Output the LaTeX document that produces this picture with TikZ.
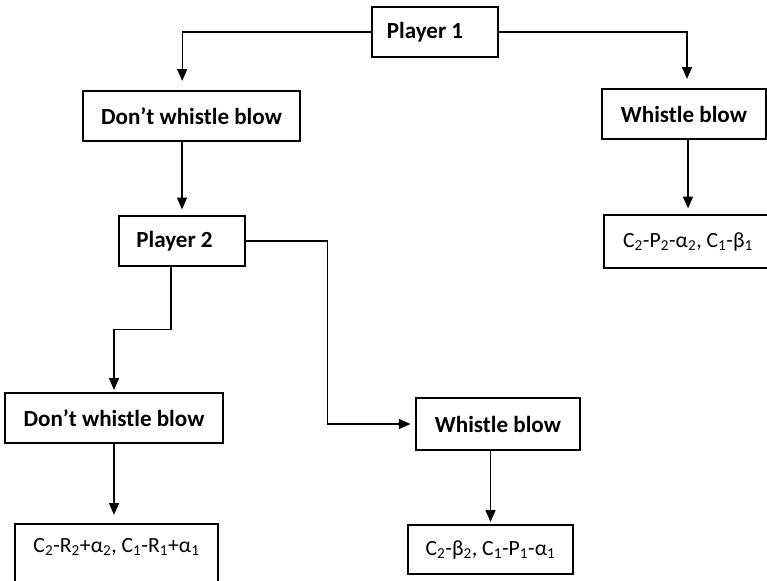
\documentclass[tikz,border=0pt]{standalone}
\usepackage{fontspec}
\setmainfont{Carlito}
\usetikzlibrary{arrows.meta}
\tikzset{move/.style={draw, line width=1.3pt, inner sep=0pt, minimum height=1.5cm, font=\bfseries\fontsize{19.7}{24}\selectfont},
         pay/.style={draw, line width=1.3pt, inner sep=0pt, font=\fontsize{18.5}{22}\selectfont},
         link/.style={line width=1pt, -{Triangle[length=10pt,width=8.5pt]}, shorten >=5pt}}

\begin{document}
\begin{tikzpicture}[x=0.03cm,y=-0.03cm]
  \clip (0,0) rectangle (767,580);
  % first move
  \node[move,minimum width=3.78cm] (p1)   at (435,32)  {Player 1\hspace*{0.6cm}};
  \node[move,minimum width=6.51cm] (dwb1) at (191.5,116) {Don’t whistle blow};
  \node[move,minimum width=4.92cm] (wb1)  at (684,114) {Whistle blow};
  \node[pay,minimum width=5.04cm,minimum height=1.59cm] (r1) at (688,241.5)
    {C\textsubscript{2}-P\textsubscript{2}-α\textsubscript{2}, C\textsubscript{1}-β\textsubscript{1}};
  % second move
  \node[move,minimum width=3.78cm] (p2)   at (182,241) {Player 2\hspace*{0.45cm}};
  \node[move,minimum width=6.54cm] (dwb2) at (114,418) {Don’t whistle blow};
  \node[move,minimum width=4.92cm,minimum height=1.56cm] (wb2) at (498,424) {Whistle blow};
  \node[pay,minimum width=6.09cm,anchor=north,text height=0.85cm,text depth=1.14cm] (r2) at (116.5,523)
    {C\textsubscript{2}-R\textsubscript{2}+α\textsubscript{2}, C\textsubscript{1}-R\textsubscript{1}+α\textsubscript{1}};
  \node[pay,minimum width=4.95cm,minimum height=1.47cm] (r3) at (490.5,549.5)
    {C\textsubscript{2}-β\textsubscript{2}, C\textsubscript{1}-P\textsubscript{1}-α\textsubscript{1}};

  \draw[link,shorten >=8pt] (p1.west) -| ([xshift=-0.28cm]dwb1.north);
  \draw[link,shorten >=8pt] (p1.east) -| ([xshift=0.09cm]wb1.north);
  \draw[link] (p2.north |- dwb1.south) -- (p2.north);
  \draw[link] (r1.north |- wb1.south) -- (r1.north);
  \draw[link,shorten >=2pt] ([xshift=-0.33cm]p2.south) -- ++(0,63) -| (dwb2.north);
  \draw[link,shorten >=4pt] (p2.east) -| ([xshift=-2.64cm]wb2.west) -- (wb2.west);
  \draw[link,shorten >=7pt] (dwb2.south) -- (dwb2.south |- r2.north);
  \draw[link,shorten >=2pt] (r3.north |- wb2.south) -- (r3.north);
\end{tikzpicture}
\end{document}
